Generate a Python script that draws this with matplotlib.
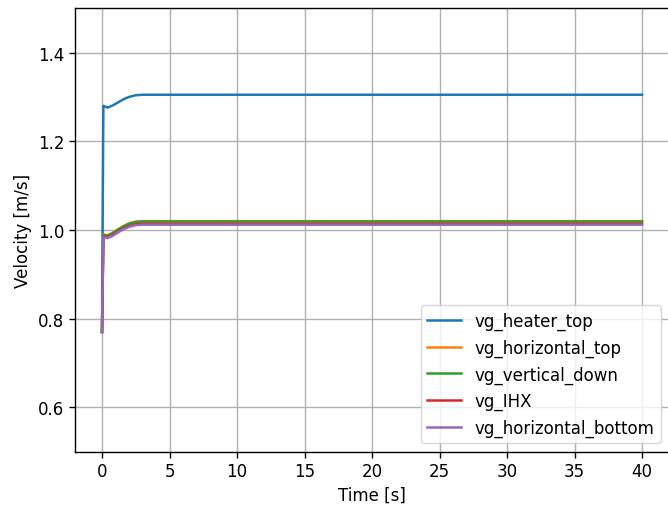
import numpy as np
import matplotlib
matplotlib.use('Agg')
import matplotlib.pyplot as plt

# time samples [s]
t = [0.0, 0.1, 0.4, 0.8, 1.2, 1.6, 2.0, 2.5, 3.0, 4.0, 40.0]

vg_heater_top = [0.77, 1.280, 1.276, 1.281, 1.288, 1.295, 1.300, 1.304, 1.305, 1.305, 1.305]
vg_horizontal_top = [0.77, 0.990, 0.988, 0.994, 1.002, 1.009, 1.015, 1.019, 1.020, 1.020, 1.020]
vg_vertical_down = [0.77, 0.989, 0.987, 0.993, 1.001, 1.008, 1.014, 1.018, 1.019, 1.019, 1.019]
vg_IHX = [0.77, 0.986, 0.984, 0.989, 0.997, 1.004, 1.009, 1.013, 1.014, 1.014, 1.014]
vg_horizontal_bottom = [0.77, 0.984, 0.982, 0.987, 0.995, 1.002, 1.007, 1.011, 1.012, 1.012, 1.012]

series = [("vg_heater_top", vg_heater_top), ("vg_horizontal_top", vg_horizontal_top),
          ("vg_vertical_down", vg_vertical_down), ("vg_IHX", vg_IHX),
          ("vg_horizontal_bottom", vg_horizontal_bottom)]

plt.rcParams['font.size'] = 12
fig = plt.figure(figsize=(6.68, 5.06), dpi=100)
W, H = 668, 506
ax = fig.add_axes([75/W, (H-452.7)/H, 594/W, 443.4/H])
for name, v in series:
    ax.plot(t, v, lw=1.8, label=name)
ax.set_xlim(-2, 42)
ax.set_ylim(0.5, 1.5)
ax.set_xticks(np.arange(0, 41, 5))
ax.set_yticks([0.6, 0.8, 1.0, 1.2, 1.4])
ax.grid(True, lw=1.0)
ax.set_xlabel('Time [s]')
ax.set_ylabel('Velocity [m/s]')
for sp in ax.spines.values():
    sp.set_linewidth(1.0)
ax.tick_params(width=1.0, length=4.2)
ax.legend(loc='lower right')
fig.savefig('out.png', dpi=100)
